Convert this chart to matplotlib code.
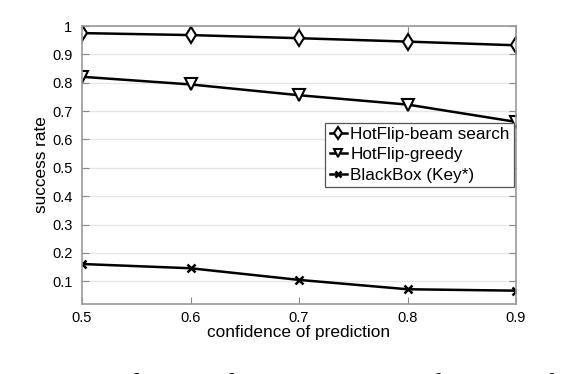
import matplotlib
matplotlib.use('Agg')
import matplotlib.pyplot as plt

# values
confidence = [0.5, 0.6, 0.7, 0.8, 0.9]
beam_search = [0.975, 0.968, 0.957, 0.945, 0.932]
greedy = [0.821, 0.794, 0.756, 0.723, 0.662]
blackbox = [0.161, 0.146, 0.105, 0.072, 0.067]
yticks = [0.1, 0.2, 0.3, 0.4, 0.5, 0.6, 0.7, 0.8, 0.9, 1]

plt.rcParams['font.family'] = ['Liberation Sans', 'DejaVu Sans']

fig = plt.figure(figsize=(5.68, 3.74), dpi=100)
ax = fig.add_axes([82 / 568, 1 - 304 / 374, (516 - 82) / 568, (304 - 26) / 374])

ax.plot(confidence, beam_search, marker='d', color='black', lw=1.8, ms=8.5,
        mfc='white', mew=1.5, label='HotFlip-beam search')
ax.plot(confidence, greedy, marker='v', color='black', lw=1.8, ms=8,
        mfc='white', mew=1.5, label='HotFlip-greedy')
ax.plot(confidence, blackbox, marker='x', color='black', lw=1.8, ms=6,
        mew=1.8, label='BlackBox (Key*)')

ax.set_xlim(0.5, 0.9)
ax.set_ylim(0.02, 1)
ax.set_xticks(confidence)
ax.set_xticklabels([str(c) for c in confidence])
ax.set_yticks(yticks)
ax.set_yticklabels([f'{t:g}' for t in yticks])
ax.yaxis.grid(True, color='#e6e6e6', lw=1)
ax.set_axisbelow(True)
ax.tick_params(direction='in', top=True, right=True, length=5, color='#888888',
               labelsize=10.5, pad=7)
ax.tick_params(axis='x', pad=5)
for s in ax.spines.values():
    s.set_color('#999999')
    s.set_linewidth(1.2)

ax.set_xlabel('confidence of prediction', fontsize=12.4, labelpad=0)
ax.set_ylabel('success rate', fontsize=12.4, labelpad=2)

leg = ax.legend(loc='upper right', bbox_to_anchor=(516 / 434 - 82 / 434 - 0.005, 1 - 97 / 278),
                fontsize=12.3, handlelength=1.0, handletextpad=0.2, borderpad=0.25,
                labelspacing=0.3, fancybox=False, framealpha=1, borderaxespad=0,
                markerscale=0.75)
leg.get_frame().set_edgecolor('#555555')
leg.get_frame().set_linewidth(0.9)

# figure caption, cut off by the bottom edge as in the source image
fig.text(0.0, 1 - 392 / 374,
         'Figure 4: Adversarial success rate as a function of the confidence of prediction',
         family='Liberation Serif', fontsize=20, va='baseline')

fig.savefig('out.png', dpi=100)
